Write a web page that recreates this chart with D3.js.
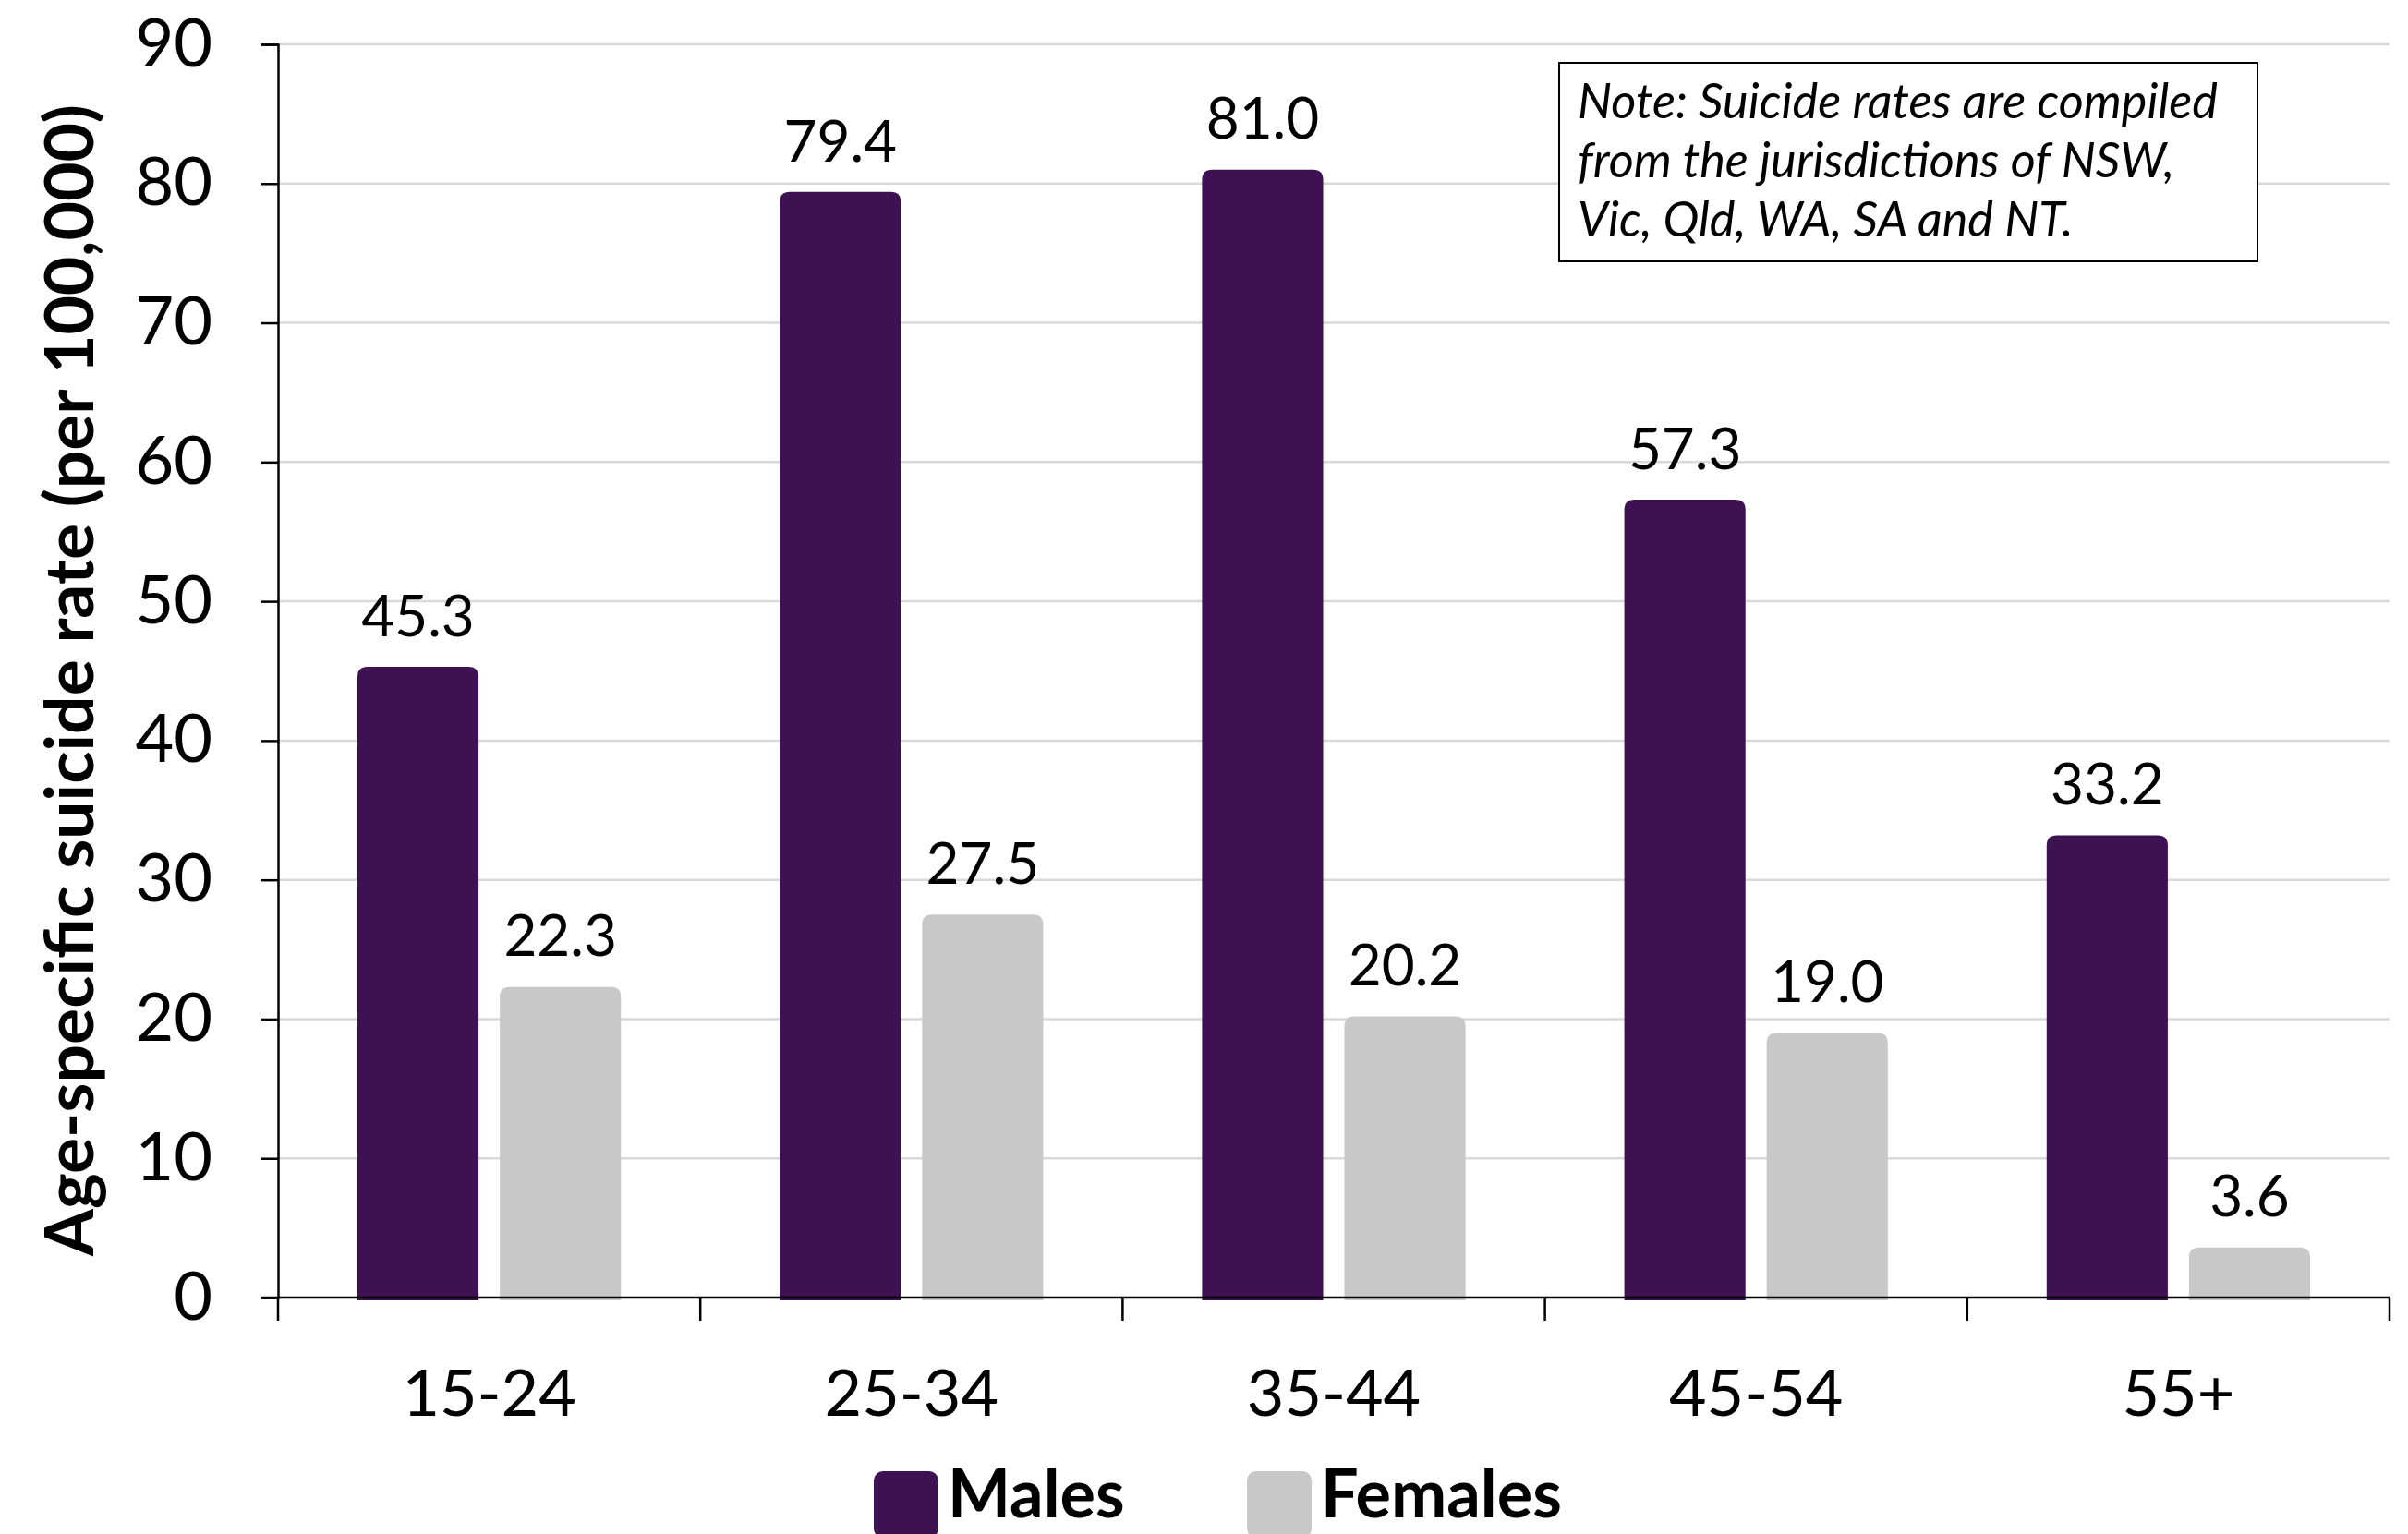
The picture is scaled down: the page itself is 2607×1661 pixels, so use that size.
<!DOCTYPE html>
<html>
<head>
<meta charset="utf-8">
<script src="https://cdn.jsdelivr.net/npm/d3@7"></script>
<style>
  html, body { margin: 0; padding: 0; background: #ffffff; }
  svg { display: block; }
  text { font-family: Lato, "Open Sans", sans-serif; fill: #000; }
</style>
</head>
<body>
<svg id="chart" width="2607" height="1661"></svg>
<script>
// Age-specific suicide rates by age group and sex (per 100,000)
const ageGroups = ["15-24", "25-34", "35-44", "45-54", "55+"];
const seriesNames = ["Males", "Females"];
const males = [45.3, 79.4, 81.0, 57.3, 33.2];
const females = [22.3, 27.5, 20.2, 19.0, 3.6];
const yTicks = [0, 10, 20, 30, 40, 50, 60, 70, 80, 90];
const colors = ["#3d1152", "#c8c8c8"];
const yTitle = "Age-specific suicide rate (per 100,000)";
const noteLines = [
  "Note: Suicide rates are compiled",
  "from the jurisdictions of NSW,",
  "Vic, Qld, WA, SA and NT."
];

const rows = ageGroups.map((g, i) => ({ group: g, values: [males[i], females[i]] }));

const svg = d3.select("#chart");
const plot = { left: 301, right: 2587, top: 48, bottom: 1405 };

const x0 = d3.scaleBand().domain(ageGroups).range([plot.left, plot.right]).padding(0);
const x1 = d3.scaleBand().domain(seriesNames).range([0, x0.bandwidth()])
  .paddingInner(0.149).paddingOuter(0.558);
const y = d3.scaleLinear().domain([0, 90]).range([plot.bottom, plot.top]);
const color = d3.scaleOrdinal().domain(seriesNames).range(colors);

// Fit a text element's font size so its rendered width equals a target
function fitWidth(sel, target) {
  sel.each(function () {
    const fs = parseFloat(this.getAttribute("font-size"));
    const w = this.getComputedTextLength();
    if (w > 0) this.setAttribute("font-size", (fs * target / w).toFixed(2));
  });
}

// Horizontal gridlines
svg.append("g")
  .selectAll("line")
  .data(yTicks.filter(t => t > 0))
  .join("line")
  .attr("x1", plot.left).attr("x2", plot.right)
  .attr("y1", d => y(d)).attr("y2", d => y(d))
  .attr("stroke", "#d9d9d9").attr("stroke-width", 2.5);

// Bars with rounded top corners
function topRoundedRect(x, yTop, w, yBot, r) {
  r = Math.min(r, (yBot - yTop), w / 2);
  return `M${x},${yBot}V${yTop + r}Q${x},${yTop} ${x + r},${yTop}` +
         `H${x + w - r}Q${x + w},${yTop} ${x + w},${yTop + r}V${yBot}Z`;
}

const groups = svg.append("g").selectAll("g")
  .data(rows).join("g")
  .attr("transform", d => `translate(${x0(d.group)},0)`);

const cells = groups.selectAll("g")
  .data(d => d.values.map((v, i) => ({ key: seriesNames[i], value: v })))
  .join("g");

cells.append("path")
  .attr("d", d => topRoundedRect(x1(d.key), y(d.value), x1.bandwidth(), y(0) + 3, 11))
  .attr("fill", d => color(d.key));

cells.append("text")
  .attr("x", d => x1(d.key) + x1.bandwidth() / 2)
  .attr("y", d => y(d.value) - 55)
  .attr("dy", "0.35em")
  .attr("text-anchor", "middle")
  .attr("font-size", 62)
  .text(d => d3.format(".1f")(d.value));

// Y axis
const yAxis = svg.append("g")
  .attr("transform", `translate(${plot.left},0)`)
  .call(d3.axisLeft(y).tickValues(yTicks).tickSize(18).tickPadding(53).tickFormat(d3.format("d")));
yAxis.select(".domain").attr("stroke", "#000").attr("stroke-width", 2.5);
yAxis.selectAll(".tick line").attr("stroke", "#000").attr("stroke-width", 2.5);
yAxis.selectAll(".tick text")
  .attr("font-family", "Lato, sans-serif").attr("font-size", 72).attr("fill", "#000");

// X axis: baseline, boundary ticks, centred labels
const xAxis = svg.append("g");
xAxis.append("line")
  .attr("x1", plot.left - 18).attr("x2", plot.right)
  .attr("y1", y(0)).attr("y2", y(0))
  .attr("stroke", "#000").attr("stroke-width", 2.5);
const boundaries = ageGroups.map(g => x0(g)).concat([x0(ageGroups[ageGroups.length - 1]) + x0.bandwidth()]);
xAxis.selectAll("line.tick")
  .data(boundaries).join("line").attr("class", "tick")
  .attr("x1", d => d).attr("x2", d => d)
  .attr("y1", y(0)).attr("y2", y(0) + 25)
  .attr("stroke", "#000").attr("stroke-width", 2.5);
xAxis.selectAll("text")
  .data(ageGroups).join("text")
  .attr("x", d => x0(d) + x0.bandwidth() / 2)
  .attr("y", 1508).attr("dy", "0.35em")
  .attr("text-anchor", "middle")
  .attr("font-size", 70)
  .text(d => d);

// Y axis title
const title = svg.append("text")
  .attr("transform", `translate(75, ${(113 + 1360) / 2}) rotate(-90)`)
  .attr("dy", "0.35em")
  .attr("text-anchor", "middle")
  .attr("font-weight", "bold")
  .attr("font-size", 60)
  .text(yTitle);
fitWidth(title, 1247);

// Note box
const note = svg.append("g");
note.append("rect")
  .attr("x", 1688).attr("y", 68).attr("width", 756).attr("height", 215)
  .attr("fill", "#fff").attr("stroke", "#000").attr("stroke-width", 2);
const noteText = note.selectAll("text")
  .data(noteLines).join("text")
  .attr("x", 1708)
  .attr("y", (d, i) => 110 + i * 64)
  .attr("dy", "0.35em")
  .attr("font-style", "italic")
  .attr("font-size", 46)
  .text(d => d);
// Scale all note lines together from the first line's width
{
  const first = noteText.node();
  const w = first.getComputedTextLength();
  const fs = 46 * 693 / w;
  noteText.attr("font-size", fs.toFixed(2));
}

// Legend along the bottom edge
const legend = svg.append("g");
const legendX = [946, 1350];
const legendItems = legend.selectAll("g")
  .data(seriesNames).join("g")
  .attr("transform", (d, i) => `translate(${legendX[i]},1593)`);
legendItems.append("rect")
  .attr("width", 70).attr("height", 72).attr("rx", 10)
  .attr("fill", d => color(d));
legendItems.append("text")
  .attr("x", 80).attr("y", 50)
  .attr("font-weight", "bold")
  .attr("font-size", 72)
  .text(d => d);
</script>
</body>
</html>
